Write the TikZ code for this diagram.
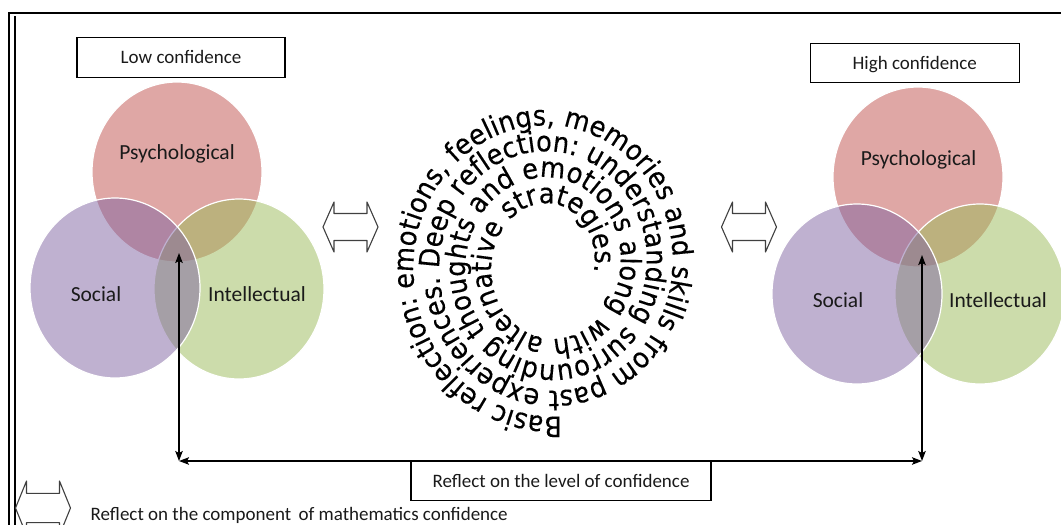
\documentclass[tikz,border=0pt]{standalone}
\usepackage{fontspec}
\setmainfont{Carlito}
\newfontfamily\spiralfont[FakeStretch=0.92,FakeBold=0.3]{DejaVu Sans}
\usetikzlibrary{shapes.geometric,arrows.meta,decorations.text}
\definecolor{psyc}{HTML}{C0504D}
\definecolor{soc}{HTML}{8064A2}
\definecolor{intel}{HTML}{9BBB59}
\definecolor{arrowgray}{HTML}{404040}
\definecolor{txt}{HTML}{1A1A1A}
\tikzset{
  venn/.style={ellipse, inner sep=0pt, minimum width=170pt, minimum height=180pt,
    fill opacity=0.5, draw=white, draw opacity=1, line width=1.2pt},
  vennlab/.style={font=\fontsize{21.5}{24}\selectfont, text=txt, anchor=base, inner sep=0pt},
  boxlab/.style={draw=black, line width=1.1pt, font=\fontsize{19}{22}\selectfont, text=txt,
    inner sep=0pt, text height=13pt, text depth=0pt},
  conn/.style={draw=black, line width=1.3pt,
    arrows={Stealth[length=10pt,width=7.5pt,inset=2pt]-Stealth[length=10pt,width=7.5pt,inset=2pt]}},
  hollow/.style={draw=arrowgray, line width=1.1pt, fill=white, line join=round},
  dblarrow/.pic={\path[hollow] (-27.5,0) -- (-16.5,-25) -- (-16.5,-13.5) -- (16.5,-13.5)
      -- (16.5,-25) -- (27.5,0) -- (16.5,25) -- (16.5,13.5) -- (-16.5,13.5) -- (-16.5,25) -- cycle;},
  frameline/.style={draw=black, line width=2pt}
}
\begin{document}
\begin{tikzpicture}[x=1pt,y=-1pt]
\useasboundingbox (0,0) rectangle (1061,525);
\clip (0,0) rectangle (1061,525);
\fill[white] (0,0) rectangle (1061,525);
% frame
\draw[frameline] (8.5,525) -- (8.5,12.5) -- (1061,12.5);
\draw[frameline] (14.5,525) -- (14.5,15.5);

% left Venn
\node[venn, fill=psyc] (lpsy) at (177,172) {};
\node[venn, fill=intel] (lint) at (239,289) {};
\node[venn, fill=soc] (lsoc) at (115,288) {};
% right Venn
\node[venn, fill=psyc] (rpsy) at (918,177) {};
\node[venn, fill=intel] (rint) at (980,294) {};
\node[venn, fill=soc] (rsoc) at (857,294) {};

\node[vennlab] (lpsyt) at (177,159) {Psychological};
\node[vennlab] (lsoct) at (96,301) {Social};
\node[vennlab] (lintt) at (257,301) {Intellectual};
\node[vennlab] (rpsyt) at (918.5,165) {Psychological};
\node[vennlab] (rsoct) at (838,307) {Social};
\node[vennlab] (rintt) at (998,307) {Intellectual};

% title boxes
\node[boxlab, minimum width=208pt, minimum height=40pt] (low) at (181,57.3) {Low confidence};
\node[boxlab, minimum width=209pt, minimum height=39.4pt] (high) at (914.7,63) {High confidence};

% hollow double arrows
\pic (harrowl) at (350.5,227) {dblarrow};
\pic (harrowr) at (749,227) {dblarrow};
\pic[yscale=1.08] (harrowlegend) at (43,508) {dblarrow};

% connectors
\coordinate (ltop) at (179,253);
\coordinate (lcorner) at (179,461);
\coordinate (rtop) at (922,255);
\coordinate (rcorner) at (922,461);
\node[boxlab, minimum width=300pt, minimum height=40pt, fill=white, text height=14pt] (level) at (561,480.7) {Reflect on the level of confidence};
\draw[conn] (lcorner) -- (ltop);
\draw[conn] (rcorner) -- (rtop);
\draw[conn] (lcorner) -- (rcorner);

% legend
\node[anchor=base west, inner sep=0pt, text=txt, font=\fontsize{19}{22}\selectfont] (legend) at (90.5,520.5) {Reflect on the component\hspace{3pt} of mathematics confidence};

% spiral text
\path[decorate, decoration={text along path, text align=left,
  text={|\spiralfont\fontsize{28}{31}\selectfont|Basic reflection: emotions, feelings, memories and skills from past experiences. Deep reflection: understanding surrounding thoughts and emotions along with alternative strategies.}}]
  plot[domain=85:1520, samples=600] ({549.5 + (143 - (\x-85)/360*26)*cos(\x)}, {264.5 + (152.5 - (\x-85)/360*26)*sin(\x)});
\end{tikzpicture}
\end{document}
